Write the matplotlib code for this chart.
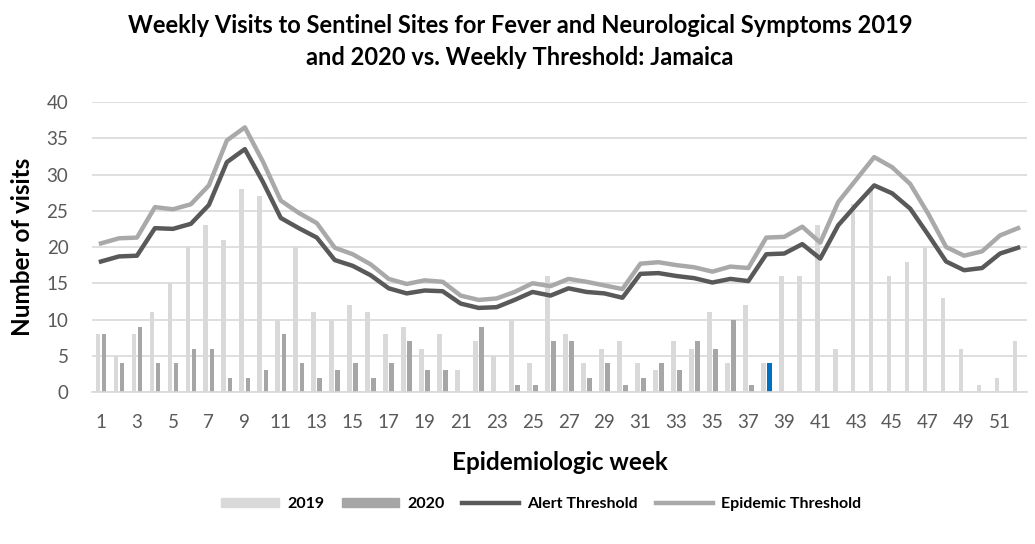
import numpy as np
import matplotlib.pyplot as plt
from matplotlib.patches import Patch
from matplotlib.lines import Line2D

plt.rcParams['font.family'] = ['Lato', 'DejaVu Sans']

# datos
semanas = np.arange(1, 53)
v2019 = [8, 5, 8, 11, 15, 20, 23, 21, 28, 27, 10, 20, 11, 10, 12, 11, 8, 9, 6, 8,
         3, 7, 5, 10, 4, 16, 8, 4, 6, 7, 4, 3, 7, 6, 11, 4, 12, 4, 16, 16,
         23, 6, 26, 28, 16, 18, 20, 13, 6, 1, 2, 7]
v2020 = [8, 4, 9, 4, 4, 6, 6, 2, 2, 3, 8, 4, 2, 3, 4, 2, 4, 7, 3, 3,
         0, 9, 0, 1, 1, 7, 7, 2, 4, 1, 2, 4, 3, 7, 6, 10, 1, 4]
alerta = [18.0, 18.7, 18.8, 22.6, 22.5, 23.2, 25.8, 31.7, 33.5, 29.0,
          24.0, 22.6, 21.3, 18.2, 17.4, 16.1, 14.3, 13.6, 14.0, 13.9,
          12.2, 11.6, 11.7, 12.7, 13.8, 13.3, 14.3, 13.8, 13.6, 13.0,
          16.3, 16.4, 16.0, 15.7, 15.1, 15.6, 15.3, 19.0, 19.1, 20.4,
          18.4, 23.0, 25.8, 28.5, 27.4, 25.3, 21.7, 18.0, 16.8, 17.1,
          19.1, 19.9]
epidemia = [20.5, 21.2, 21.3, 25.5, 25.2, 25.9, 28.5, 34.7, 36.5, 31.8,
            26.4, 24.7, 23.3, 19.9, 19.0, 17.6, 15.6, 14.9, 15.4, 15.2,
            13.3, 12.7, 12.9, 13.8, 15.0, 14.6, 15.6, 15.2, 14.7, 14.2,
            17.7, 17.9, 17.5, 17.2, 16.6, 17.3, 17.1, 21.3, 21.4, 22.8,
            20.6, 26.2, 29.3, 32.4, 31.0, 28.7, 24.6, 20.0, 18.8, 19.4,
            21.6, 22.6]
semana_atual = 38

cor2019 = '#d9d9d9'
cor2020 = '#a6a6a6'
cor_alerta = '#595959'
cor_epidemia = '#a9a9a9'

fig = plt.figure(figsize=(10.35, 5.44), dpi=100)
ax = fig.add_axes([0.0889, 0.2794, 0.9034, 0.5331])

larg = 0.26
cores20 = [cor2020] * len(v2020)
cores20[semana_atual - 1] = '#0070c0'
ax.bar(semanas - 0.17, v2019, width=larg, color=cor2019, zorder=2)
ax.bar(semanas[:len(v2020)] + 0.17, v2020, width=larg, color=cores20, zorder=2)
ax.plot(semanas, epidemia, color=cor_epidemia, lw=3.2, zorder=3)
ax.plot(semanas, alerta, color=cor_alerta, lw=3.2, zorder=4)

ax.set_xlim(0.5, 52.5)
ax.set_ylim(0, 40)
ax.set_yticks(np.arange(0, 41, 5))
ax.set_xticks(np.arange(1, 53, 2))
ax.grid(axis='y', color='#d9d9d9', lw=1.2, zorder=0)
for s in ['top', 'right', 'left']:
    ax.spines[s].set_visible(False)
ax.spines['bottom'].set_color('#d9d9d9')
ax.spines['bottom'].set_linewidth(1.2)
ax.tick_params(axis='both', length=0, labelsize=13.5, labelcolor='#595959')
ax.tick_params(axis='x', pad=16)
ax.tick_params(axis='y', pad=17)

ax.set_xlabel('Epidemiologic week', fontsize=17.5, fontweight='bold', labelpad=14)
ax.set_ylabel('Number of visits', fontsize=17.5, fontweight='bold', labelpad=9)
fig.suptitle('Weekly Visits to Sentinel Sites for Fever and Neurological Symptoms 2019\n'
             'and 2020 vs. Weekly Threshold: Jamaica',
             x=0.5025, y=0.975, va='top', fontsize=17, fontweight='bold', linespacing=1.5)

itens = [Patch(color=cor2019, label='2019'), Patch(color=cor2020, label='2020'),
         Line2D([], [], color=cor_alerta, lw=3.2, label='Alert Threshold'),
         Line2D([], [], color=cor_epidemia, lw=3.2, label='Epidemic Threshold')]
leg = fig.legend(handles=itens, loc='center', bbox_to_anchor=(0.523, 0.073), ncol=4,
                 frameon=False, handlelength=3.6, handleheight=0.45, columnspacing=1.1,
                 handletextpad=0.5, prop={'size': 11.5, 'weight': 'bold'})

fig.savefig('out.png', dpi=100)
